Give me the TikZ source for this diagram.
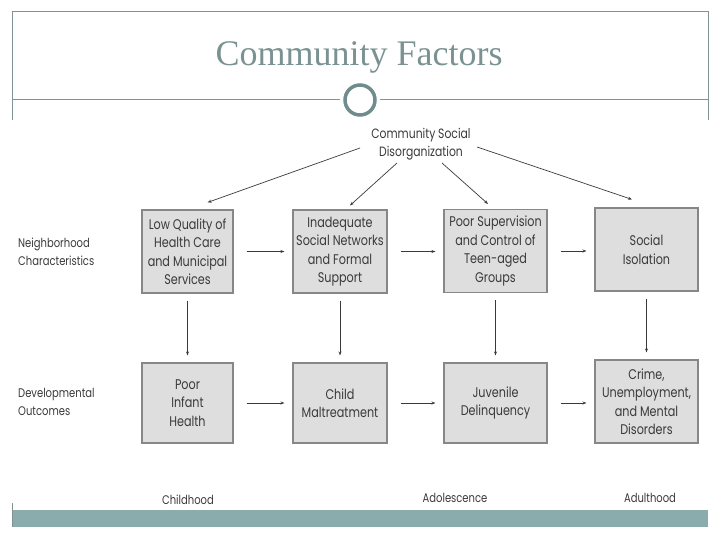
\documentclass[tikz,border=0pt]{standalone}
\usepackage{fontspec}
\setmainfont{Liberation Serif}
\newfontfamily\boxfont{Poppins}[FakeStretch=0.8]
\usetikzlibrary{arrows.meta}
\definecolor{framec}{RGB}{128,146,146}
\definecolor{titlec}{RGB}{122,146,146}
\definecolor{ringc}{RGB}{112,140,140}
\definecolor{barc}{RGB}{138,172,172}
\definecolor{boxfill}{RGB}{222,222,222}
\definecolor{boxline}{RGB}{135,135,135}
\definecolor{inkc}{RGB}{58,58,58}
\tikzset{
  framel/.style={draw=framec, line width=1pt},
  fbox/.style={draw=boxline, fill=boxfill, line width=1.1pt, inner sep=0pt,
    align=center, text=inkc, font=\boxfont\fontsize{14}{18.5}\selectfont},
  lab/.style={align=left, text=inkc, font=\boxfont\fontsize{12.5}{18.5}\selectfont, inner sep=0pt},
  conn/.style={draw=inkc, line width=0.7pt, -{Stealth[length=4pt,width=3pt]}},
}
\begin{document}
\begin{tikzpicture}[x=1pt,y=-1pt]
\useasboundingbox (0,0) rectangle (720,540);
% slide frame
\draw[framel] (12,120) -- (12,12) -- (708,12) -- (708,120);
\node[circle, draw=ringc, line width=3.5pt, minimum size=30pt, fill=white, inner sep=0pt] (ring) at (360,100) {};
\coordinate (fl) at (12,100);
\coordinate (fr) at (708,100);
\draw[framel] (fl) -- ([xshift=-3pt]ring.west);
\draw[framel] ([xshift=3pt]ring.east) -- (fr);
\node[text=titlec, font=\fontsize{36}{40}\selectfont, inner sep=0pt] (title) at (359,57) {Community Factors};
\fill[barc] (12,510) rectangle (708,527);
\draw[framel] (12,503) -- (12,527);

% source node
\node[lab, align=center, font=\boxfont\fontsize{13.5}{18.5}\selectfont] (csd) at (421,144) {Community Social\\Disorganization};

% row 1
\node[fbox, minimum width=91pt, minimum height=83pt] (b1) at (187.5,251.5) {Low Quality of\\Health Care\\and Municipal\\Services};
\node[fbox, minimum width=94pt, minimum height=83pt] (b2) at (340,251.5) {Inadequate\\Social Networks\\and Formal\\Support};
\node[fbox, minimum width=103pt, minimum height=83pt] (b3) at (495.5,251) {Poor Supervision\\and Control of\\Teen-aged\\Groups};
\node[fbox, minimum width=103pt, minimum height=83pt] (b4) at (646.5,249.5) {Social\\Isolation};

% row 2
\node[fbox, minimum width=91pt, minimum height=80pt] (b5) at (187.5,403) {Poor\\Infant\\Health};
\node[fbox, minimum width=94pt, minimum height=80pt] (b6) at (340,403) {Child\\Maltreatment};
\node[fbox, minimum width=103pt, minimum height=80pt] (b7) at (495.5,403) {Juvenile\\Delinquency};
\node[fbox, minimum width=103pt, minimum height=83pt] (b8) at (646.5,401.5) {Crime,\\Unemployment,\\and Mental\\Disorders};

% side labels
\node[lab, anchor=west] (nc) at (18,252) {Neighborhood\\Characteristics};
\node[lab, anchor=west] (dv) at (18,402) {Developmental\\Outcomes};

% bottom labels
\node[lab] (ch) at (188,500) {Childhood};
\node[lab] (ad) at (455,498) {Adolescence};
\node[lab] (au) at (650,498) {Adulthood};

% arrows from source
\draw[conn] ([xshift=-61pt,yshift=-4pt]csd.center) -- ([xshift=20pt,yshift=7pt]b1.north);
\draw[conn] ([xshift=-24pt,yshift=-19pt]csd.center) -- ([xshift=10pt,yshift=4pt]b2.north);
\draw[conn] ([xshift=21pt,yshift=-19pt]csd.center) -- ([xshift=-7.5pt,yshift=5pt]b3.north);
\draw[conn] ([xshift=56pt,yshift=-3pt]csd.center) -- ([xshift=-14.5pt,yshift=8pt]b4.north);

% horizontal arrows
\foreach \a/\b in {b1/b2,b2/b3,b3/b4,b5/b6,b6/b7,b7/b8}{
  \draw[conn, shorten <=13pt, shorten >=8pt] (\a.east) -- (\b.west |- \a.east);
}
% vertical arrows
\foreach \a/\b in {b1/b5,b2/b6,b3/b7,b4/b8}{
  \draw[conn, shorten <=7pt, shorten >=7pt] (\a.south) -- (\b.north);
}
\end{tikzpicture}
\end{document}
